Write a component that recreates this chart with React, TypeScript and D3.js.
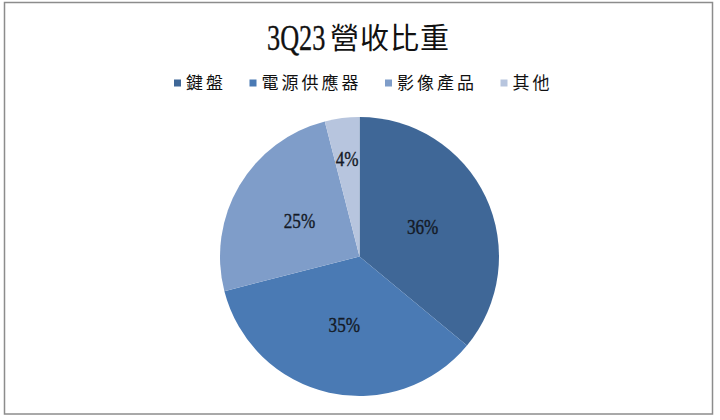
import React from "react";
import * as d3 from "d3";

const categories = ["鍵盤", "電源供應器", "影像產品", "其他"];
const shares = [36, 35, 25, 4];
const colors = ["#3f6797", "#4a7ab4", "#7f9dc9", "#b7c5de"];
const titleNum = "3Q23";
const titleText = "營收比重";

const W = 720;
const H = 420;
const cx = 359.5;
const cy = 256.5;
const R = 139.5;

const latin = "'Liberation Serif', 'Times New Roman', serif";
const cjk = "'Liberation Serif', 'Noto Sans CJK TC', serif";

export default function App() {
  const pie = d3.pie<number>().sort(null).value((d) => d);
  const arcs = pie(shares);
  const arc = d3.arc<d3.PieArcDatum<number>>().innerRadius(0).outerRadius(R);
  const labelArc = d3.arc<d3.PieArcDatum<number>>().innerRadius(R * 0.5).outerRadius(R * 0.5);
  const smallLabelArc = d3.arc<d3.PieArcDatum<number>>().innerRadius(R * 0.71).outerRadius(R * 0.71);

  const pitch = 20;
  const gap = 23.5;
  let lx = 174;
  const legendItems = categories.map((c, i) => {
    const x = lx;
    lx += 12 + c.length * pitch + gap;
    return { c, x, color: colors[i] };
  });

  return (
    <svg
      width={W}
      height={H}
      style={{ position: "absolute", left: 0, top: 0, background: "#fff" }}
    >
      <rect x={4.5} y={2.5} width={708} height={411.5} fill="#fff" stroke="#8c8c8c" strokeWidth={1.5} />
      <g transform="translate(267,49.5) scale(0.73,1)">
        <text x={0} y={0} fontFamily={latin} fontSize={36} fill="#111" stroke="#111" strokeWidth={0.35}>
          {titleNum}
        </text>
      </g>
      <text x={330} y={49} fontFamily={cjk} fontSize={29} letterSpacing={1} fill="#111">
        {titleText}
      </text>
      {legendItems.map((it) => (
        <g key={it.c}>
          <rect x={it.x} y={79.5} width={7} height={7} fill={it.color} />
          <text x={it.x + 12} y={89} fontFamily={cjk} fontSize={17} letterSpacing={3} fill="#111">
            {it.c}
          </text>
        </g>
      ))}
      <g transform={`translate(${cx},${cy})`}>
        {arcs.map((a, i) => (
          <path key={i} d={arc(a) || ""} fill={colors[i]} />
        ))}
        {arcs.map((a, i) => {
          const [x, y] = (shares[i] < 5 ? smallLabelArc : labelArc).centroid(a);
          const label = `${shares[i]}%`;
          return (
            <g key={"l" + i} transform={`translate(${x},${y + 7.5}) scale(0.78,1)`}>
              <text
                x={0}
                y={0}
                textAnchor="middle"
                fontFamily={latin}
                fontSize={22}
                fill="#141a26"
                stroke="#141a26"
                strokeWidth={0.4}
              >
                {label}
              </text>
            </g>
          );
        })}
      </g>
    </svg>
  );
}
